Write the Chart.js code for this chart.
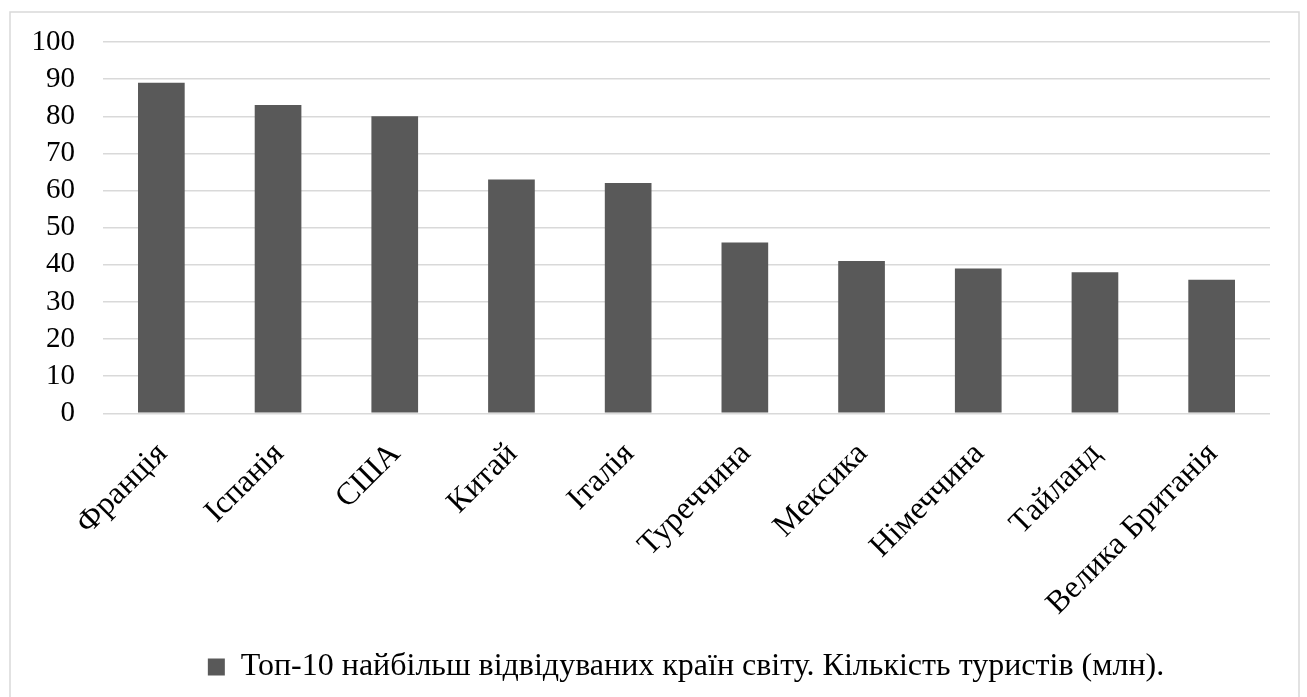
<!DOCTYPE html>
<html>
<head>
<meta charset="utf-8">
<script src="https://cdn.jsdelivr.net/npm/chart.js@4/dist/chart.umd.min.js"></script>
<style>
  html, body { margin: 0; padding: 0; background: #fff; }
  #wrap { width: 1307px; height: 697px; }
</style>
</head>
<body>
<div id="wrap"><canvas id="chart"></canvas></div>
<script>
// Data
const categories = ['Франція', 'Іспанія', 'США', 'Китай', 'Італія', 'Туреччина', 'Мексика', 'Німеччина', 'Тайланд', 'Велика Британія'];
const tourists = [89, 83, 80, 63, 62, 46, 41, 39, 38, 36];
const seriesLabel = 'Топ-10 найбільш відвідуваних країн світу. Кількість туристів (млн).';
const yMin = 0;
const yMax = 100;
const yStep = 10;

const FONT = "'Liberation Serif', 'Times New Roman', serif";

// white page + light frame round the chart
const framePlugin = {
  id: 'frame',
  beforeDraw(chart) {
    const ctx = chart.ctx;
    ctx.save();
    ctx.fillStyle = '#fff';
    ctx.fillRect(0, 0, chart.width, chart.height);
    ctx.strokeStyle = '#d9d9d9';
    ctx.lineWidth = 1.5;
    ctx.strokeRect(10, 12, 1289, 700);
    ctx.restore();
  }
};

// the legend in the original sits a little right of centre
const legendShift = {
  id: 'legendShift',
  afterLayout(chart) {
    chart.legend.left += 46;
    chart.legend.right += 46;
  }
};

function draw() {
  const ctx = document.getElementById('chart').getContext('2d');
  new Chart(ctx, {
    type: 'bar',
    data: {
      labels: categories,
      datasets: [{
        label: seriesLabel,
        data: tourists,
        backgroundColor: '#595959',
        borderWidth: 0,
        categoryPercentage: 1,
        barPercentage: 0.4
      }]
    },
    options: {
      responsive: true,
      maintainAspectRatio: false,
      animation: false,
      layout: { padding: { left: 10, right: 37, top: 42, bottom: 4 } },
      plugins: {
        tooltip: { enabled: false },
        legend: {
          position: 'bottom',
          labels: {
            color: '#000',
            font: { family: FONT, size: 32 },
            boxWidth: 17,
            boxHeight: 17,
            padding: 7
          }
        }
      },
      scales: {
        x: {
          grid: { display: false },
          border: { display: false },
          ticks: {
            color: '#000',
            font: { family: FONT, size: 32 },
            maxRotation: 45,
            minRotation: 45,
            autoSkip: false,
            padding: 14,
            labelOffset: 1
          },
          afterFit(scale) { scale.height = 230.7; }
        },
        y: {
          min: yMin,
          max: yMax,
          grid: { color: '#d9d9d9', lineWidth: 1.5, drawTicks: false },
          border: { display: false },
          ticks: {
            stepSize: yStep,
            autoSkip: false,
            color: '#000',
            font: { family: FONT, size: 29 },
            padding: 28
          },
          afterFit(scale) {
            scale.width = 93;
            // let the layout padding alone decide where the plot starts
            scale.paddingTop = 0;
            scale.paddingBottom = 0;
          }
        }
      }
    },
    plugins: [framePlugin, legendShift]
  });
}

document.fonts.load("29px 'Liberation Serif'", 'Тп 100').then(draw, draw);
</script>
</body>
</html>
